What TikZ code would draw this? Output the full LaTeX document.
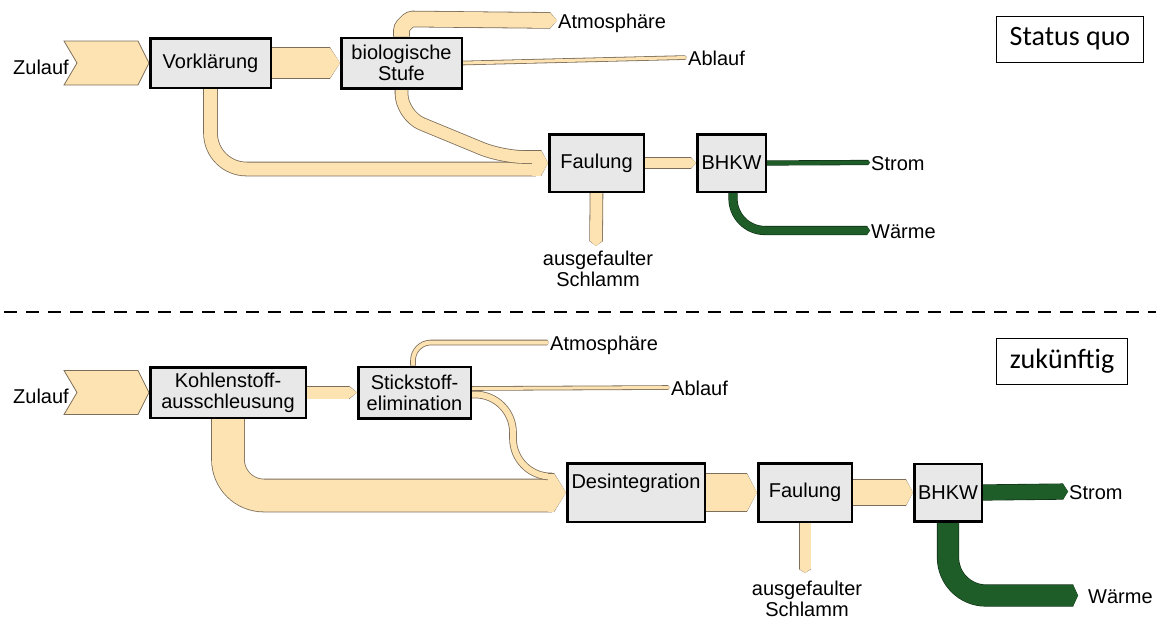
\documentclass[tikz,border=0pt]{standalone}
\usepackage{fontspec}
\setmainfont{Liberation Sans}
\newfontfamily\tagfont{Carlito}
\usetikzlibrary{positioning,arrows.meta,calc,backgrounds}

\definecolor{flowfill}{RGB}{253,226,178}
\definecolor{flowline}{RGB}{125,110,90}
\definecolor{heatgreen}{RGB}{30,92,40}
\definecolor{heatline}{RGB}{15,45,20}
\definecolor{boxgray}{RGB}{232,232,232}

\tikzstyle{pbox}=[rectangle, draw=black, line width=2.5pt, fill=boxgray, inner sep=0pt, align=center, font=\fontsize{20}{21}\selectfont]
\tikzstyle{lbl}=[inner sep=1pt, text height=15pt, text depth=0pt, font=\fontsize{20}{21}\selectfont]
\tikzstyle{lbl2}=[inner sep=0pt, align=center, font=\fontsize{20}{21}\selectfont]
\tikzstyle{tagbox}=[rectangle, draw=black, line width=0.8pt, inner xsep=13pt, minimum height=46pt, font=\tagfont\fontsize{28}{32}\selectfont]
\tikzstyle{inlet}=[draw=flowline, line width=0.8pt, fill=flowfill]
\tikzset{
  flowband/.style={line width=#1, draw=flowfill, preaction={draw=flowline, line width=#1+1.6pt}},
  heatband/.style={line width=#1, draw=heatgreen, preaction={draw=heatline, line width=#1+1.2pt}},
  flowtip/.style={-{Triangle[width=0pt 1, length=#1, line width=0pt]}},
}

\begin{document}
\begin{tikzpicture}[x=1pt, y=-1pt]
\useasboundingbox (0,0) rectangle (1156,619);

% Status quo
\node (vk) [pbox, minimum width=120.5pt, minimum height=49.5pt] at (210.5,63) {Vorklärung};
\node (bio) [pbox, minimum width=120.5pt, minimum height=50.5pt, right=68pt of vk] {biologische\\Stufe};
\node (fa1) [pbox, minimum width=94.5pt, minimum height=57.5pt] at (596.5,163) {Faulung};
\node (bh1) [pbox, minimum width=68.5pt, minimum height=57.5pt, right=51pt of fa1] {BHKW};
\node (zl1) [lbl, anchor=base east] at (70,74) {Zulauf};
\node (at1) [lbl, anchor=base west] at (557,28) {Atmosphäre};
\node (ab1) [lbl, anchor=base west] at (687,65) {Ablauf};
\node (el1) [lbl, anchor=base west] at (870,170) {Strom};
\node (wa1) [lbl, anchor=base west] at (870,238) {Wärme};
\node (sl1) [lbl2, anchor=north] at (598,251) {ausgefaulter\\Schlamm};
\node (sq) [tagbox] at (1070,39) {Status quo};
\coordinate [left=16pt of fa1.west] (m1);

\draw[line width=2.5pt, dash pattern=on 13pt off 9pt] (4,312) -- (1156,312);

% zukuenftig
\node (ko) [pbox, minimum width=155.5pt, minimum height=50.5pt] at (228,392.5) {Kohlenstoff-\\ausschleusung};
\node (ne) [pbox, minimum width=112.5pt, minimum height=51.5pt, right=50pt of ko] {Stickstoff-\\elimination};
\node (de) [pbox, minimum width=137.5pt, minimum height=58.5pt, text height=14pt, text depth=22pt] at (636,492.5) {Desintegration};
\node (fa2) [pbox, minimum width=93.5pt, minimum height=58.5pt, right=51pt of de] {Faulung};
\node (bh2) [pbox, minimum width=67.5pt, minimum height=57.5pt, right=60pt of fa2] {BHKW};
\node (zl2) [lbl, anchor=base east] at (70,403) {Zulauf};
\node (at2) [lbl, anchor=base west] at (549,350) {Atmosphäre};
\node (ab2) [lbl, anchor=base west] at (670,395) {Ablauf};
\node (el2) [lbl, anchor=base west] at (1068,499) {Strom};
\node (wa2) [lbl, anchor=base west] at (1087,603) {Wärme};
\node (sl2) [lbl2, anchor=north] at (807,581) {ausgefaulter\\Schlamm};
\node (zk) [tagbox] at (1062,361.5) {zukünftig};
\coordinate [left=18pt of de.west] (m2);

\begin{scope}[on background layer]
% Status quo
\draw[inlet] (vk.west) -- ++(-11,-22) -- ++(-74,0) -- ++(13,22) -- ++(-13,22) -- ++(74,0) -- cycle;
\draw[flowband=30pt, flowtip=10pt] (vk.east) -- (bio.west);
\draw[flowband=13pt, rounded corners=36pt] (vk.south) |- ($(m1)+(4,6)$);
\draw[flowband=12pt, rounded corners=22pt] (bio.south) -- ++(0,26) -- ($(m1)+(-30,-6)$) -- ($(m1)+(4,-6)$);
\draw[flowband=25pt, flowtip=7pt] (m1) -- (fa1.west);
\draw[flowband=15pt, flowtip=7pt, rounded corners=3pt] (bio.north) -- ++(0,-9) -- ++(8.5,-8.5) -- (at1.west);
\draw[flowband=3pt, flowtip=2pt] (bio.east) -- (ab1.west);
\draw[flowband=10pt, flowtip=5pt] (fa1.east) -- (bh1.west);
\draw[flowband=12pt, flowtip=5pt] (fa1.south) -- ($(sl1.north)+(-2,-5)$);
\draw[heatband=4pt, flowtip=2pt] (bh1.east) -- (el1.west);
\draw[heatband=8pt, flowtip=3pt, rounded corners=32pt] ($(bh1.south)+(1.5,0)$) |- (wa1.west);
% zukuenftig
\draw[inlet] (ko.west) -- ++(-11,-22) -- ++(-74,0) -- ++(13,22) -- ++(-13,22) -- ++(74,0) -- cycle;
\draw[flowband=12pt, flowtip=8pt] (ko.east) -- (ne.west);
\draw[flowband=32pt, rounded corners=36pt] (ko.south) |- ($(m2)+(4,3)$);
\draw[flowband=6pt, rounded corners=38pt] ($(ne.east)+(0,2)$) -- ++(41,0) |- ($(m2)+(4,-16)$);
\draw[flowband=38pt, flowtip=12pt] (m2) -- (de.west);
\draw[flowband=4pt, flowtip=2pt, rounded corners=18pt] ($(ne.north)+(-1.5,0)$) |- (at2.west);
\draw[flowband=3pt, flowtip=2pt] ($(ne.east)+(0,-4)$) -- (ab2.west);
\draw[flowband=37pt, flowtip=10pt] (de.east) -- (fa2.west);
\draw[flowband=25pt, flowtip=7pt] (fa2.east) -- (bh2.west);
\draw[flowband=11pt, flowtip=4pt] (fa2.south) -- ($(sl2.north)+(-2,-8)$);
\draw[heatband=15pt, flowtip=5pt] (bh2.east) -- (el2.west);
\draw[heatband=21pt, flowtip=5pt, rounded corners=38pt] (bh2.south) |- ($(wa2.west)+(-9,0)$);
\end{scope}
\end{tikzpicture}
\end{document}
